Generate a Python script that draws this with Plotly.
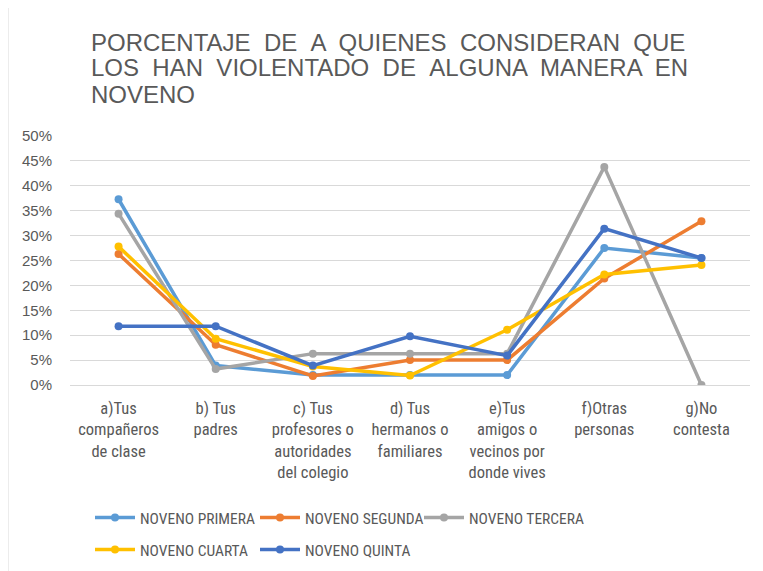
import plotly.graph_objects as go

categories = [
    "a)Tus<br>compañeros<br>de clase",
    "b) Tus<br>padres",
    "c) Tus<br>profesores o<br>autoridades<br>del colegio",
    "d) Tus<br>hermanos o<br>familiares",
    "e)Tus<br>amigos o<br>vecinos por<br>donde vives",
    "f)Otras<br>personas",
    "g)No<br>contesta",
]

primera = [0.373, 0.039, 0.020, 0.020, 0.020, 0.275, 0.255]
segunda = [0.263, 0.081, 0.018, 0.050, 0.050, 0.214, 0.329]
tercera = [0.344, 0.032, 0.063, 0.063, 0.063, 0.438, 0.0]
cuarta = [0.278, 0.093, 0.037, 0.019, 0.111, 0.222, 0.241]
quinta = [0.118, 0.118, 0.039, 0.098, 0.059, 0.314, 0.255]

series_names = ["NOVENO PRIMERA", "NOVENO SEGUNDA", "NOVENO TERCERA", "NOVENO CUARTA", "NOVENO QUINTA"]
series_values = [primera, segunda, tercera, cuarta, quinta]
series_colors = ["#5B9BD5", "#ED7D31", "#A5A5A5", "#FFC000", "#4472C4"]

sp = "&#160;"
title_lines = [
    f"PORCENTAJE {sp}DE {sp}A {sp}QUIENES {sp}CONSIDERAN {sp}QUE",
    f"LOS {sp}HAN {sp}VIOLENTADO {sp}DE {sp}ALGUNA {sp}MANERA {sp}EN",
    "NOVENO",
]

W, H = 755, 563
L, R, T, B = 62, 13, 128, 186
PW, PH = W - L - R, H - T - B
font_family = "Liberation Sans Narrow, Roboto Condensed, Liberation Sans, Arial, sans-serif"
grey_text = "#595959"

# legend placement (figure pixel coords): x of each legend box, y of row centre
legend_pos = [(82, 510), (247, 510), (411, 510), (82, 542), (247, 542)]
legend_ids = ["legend", "legend2", "legend3", "legend4", "legend5"]

fig = go.Figure()
for name, vals, col, lg in zip(series_names, series_values, series_colors, legend_ids):
    fig.add_trace(go.Scatter(
        x=categories, y=vals, name=name, mode="lines+markers",
        line=dict(color=col, width=3.5),
        marker=dict(color=col, size=8),
        legend=lg,
    ))

legends = {}
for lg, (lx, ly) in zip(legend_ids, legend_pos):
    legends[lg] = dict(
        orientation="h", x=lx / W, xanchor="left", xref="container",
        y=1 - ly / H, yanchor="middle", yref="container",
        font=dict(family=font_family, size=15.5, color=grey_text),
        itemwidth=40, bgcolor="rgba(0,0,0,0)",
    )

title_y = [34.5, 59.5, 86]
annotations = []
for txt, ty in zip(title_lines, title_y):
    annotations.append(dict(
        text=txt, showarrow=False, xref="paper", yref="paper",
        x=(81 - L) / PW, xanchor="left", y=1 + (T - ty) / PH, yanchor="middle",
        font=dict(family="Liberation Sans, Arial, sans-serif", size=24, color=grey_text),
    ))

fig.update_layout(
    width=W, height=H,
    paper_bgcolor="white", plot_bgcolor="white",
    margin=dict(l=L, r=R, t=T, b=B),
    font=dict(family=font_family, size=16, color=grey_text),
    showlegend=True,
    annotations=annotations,
    shapes=[dict(type="line", xref="paper", yref="paper",
                 x0=(0 - L) / PW, x1=(0 - L) / PW,
                 y0=-B / PH, y1=T / PH + 1,
                 line=dict(color="#D9D9D9", width=1))],
    **legends,
)

fig.update_xaxes(
    range=[-0.5, len(categories) - 0.5],
    showgrid=False, showline=False, tickangle=0, automargin=False,
    ticks="outside", ticklen=8, tickcolor="rgba(0,0,0,0)",
    tickfont=dict(family=font_family, size=16.5, color=grey_text),
)
fig.update_yaxes(
    range=[0, 0.5], dtick=0.05, tickformat=".0%", automargin=False,
    showgrid=True, gridcolor="#D9D9D9", gridwidth=1,
    zeroline=True, zerolinecolor="#D9D9D9", zerolinewidth=1,
    showline=False, ticks="outside", ticklen=14, tickcolor="rgba(0,0,0,0)",
    tickfont=dict(family="Liberation Sans, Arial, sans-serif", size=15, color=grey_text),
)

fig.write_html("out.html")
